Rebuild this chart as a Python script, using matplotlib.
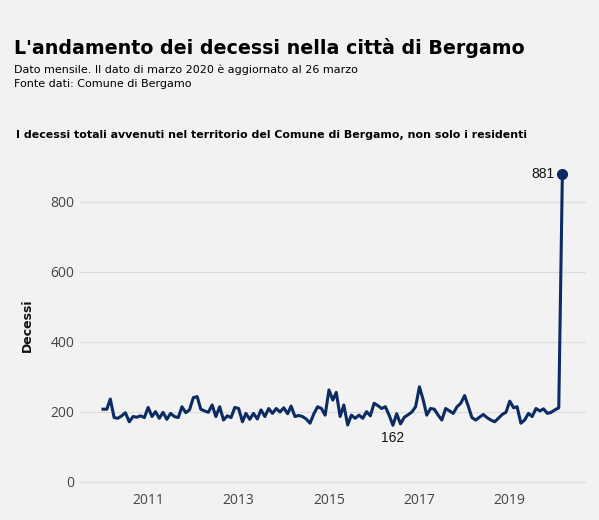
import pandas as pd
import matplotlib
matplotlib.use("Agg")
import matplotlib.pyplot as plt
import matplotlib.dates as mdates

# === dati: decessi mensili, gennaio 2010 - marzo 2020 ===
inizio = "2010-01-01"
decessi = [
    208, 208, 237, 184, 182, 189, 198, 172, 187, 185, 189, 184,   # 2010
    213, 187, 201, 182, 199, 179, 196, 187, 184, 215, 198, 206,   # 2011
    241, 244, 208, 203, 199, 220, 187, 215, 177, 189, 184, 213,   # 2012
    210, 172, 196, 179, 196, 180, 206, 187, 210, 196, 210, 200,   # 2013
    212, 195, 217, 187, 190, 187, 180, 168, 195, 215, 210, 191,   # 2014
    263, 234, 256, 187, 220, 163, 191, 182, 191, 182, 201, 189,   # 2015
    225, 218, 210, 215, 191, 162, 195, 166, 185, 192, 200, 215,   # 2016
    272, 234, 191, 210, 208, 191, 177, 210, 203, 196, 215, 225,   # 2017
    247, 215, 184, 177, 185, 193, 184, 177, 172, 182, 193, 199,   # 2018
    231, 212, 215, 168, 177, 196, 187, 210, 203, 209, 196, 199,   # 2019
    206, 212, 881,                                                # 2020
]
anni_tick = [2011, 2013, 2015, 2017, 2019]
y_tick = [0, 200, 400, 600, 800]

date = pd.date_range(inizio, periods=len(decessi), freq="MS")
df = pd.DataFrame({"data": date, "decessi": decessi})

sfondo = "#f2f2f2"
blu = "#0b2b62"

fig = plt.figure(figsize=(5.99, 5.2), dpi=100, facecolor=sfondo)
ax = fig.add_axes([80 / 599, 28 / 520, 506 / 599, 334 / 520], facecolor=sfondo)

ax.plot(df["data"], df["decessi"], color=blu, lw=2.2, solid_joinstyle="round", zorder=3)

# punto finale e minimo
ultimo = df.iloc[-1]
ax.plot(ultimo["data"], ultimo["decessi"], "o", color=blu, ms=7, zorder=4)
ax.annotate(f"{ultimo['decessi']}", (ultimo["data"], ultimo["decessi"]),
            xytext=(-6, 0), textcoords="offset points", ha="right", va="center",
            fontsize=10, family="Liberation Sans", color="#111111")
minimo = df.loc[df["decessi"].idxmin()]
ax.annotate(f"{minimo['decessi']}", (minimo["data"], minimo["decessi"]),
            xytext=(0, -9), textcoords="offset points", ha="center", va="center",
            fontsize=10, family="Liberation Sans", color="#111111")

# assi
giorni_px = 45.2 / 365.25
x0 = mdates.date2num(pd.Timestamp("2010-01-01"))
ax.set_xlim(x0 - 23 / giorni_px, x0 + (586 - 103) / giorni_px)
ax.set_ylim(-28.6, 925.7)
ax.set_xticks([mdates.date2num(pd.Timestamp(f"{a}-01-01")) for a in anni_tick])
ax.set_xticklabels([str(a) for a in anni_tick])
ax.set_yticks(y_tick)
ax.tick_params(length=0, labelsize=10, labelcolor="#444444", pad=4)
ax.tick_params(axis="x", pad=0.5)
for lab in ax.get_xticklabels() + ax.get_yticklabels():
    lab.set_family("Open Sans")
ax.grid(axis="y", color="#dddddd", lw=0.8)
ax.grid(axis="x", visible=False)
for s in ax.spines.values():
    s.set_visible(False)
ax.set_ylabel("Decessi", fontsize=9, fontweight="bold", color="#111111", labelpad=12)

# titoli
fig.text(14 / 599, 1 - 48 / 520, "L'andamento dei decessi nella città di Bergamo",
         fontsize=13.7, fontweight="bold", va="center", ha="left")
fig.text(14 / 599, 1 - 70 / 520, "Dato mensile. Il dato di marzo 2020 è aggiornato al 26 marzo",
         fontsize=8, va="center", ha="left")
fig.text(14 / 599, 1 - 84 / 520, "Fonte dati: Comune di Bergamo",
         fontsize=8, va="center", ha="left")
fig.text(16 / 599, 1 - 135 / 520,
         "I decessi totali avvenuti nel territorio del Comune di Bergamo, non solo i residenti",
         fontsize=7.9, fontweight="bold", va="center", ha="left")

fig.savefig("out.png", dpi=100, facecolor=sfondo)
